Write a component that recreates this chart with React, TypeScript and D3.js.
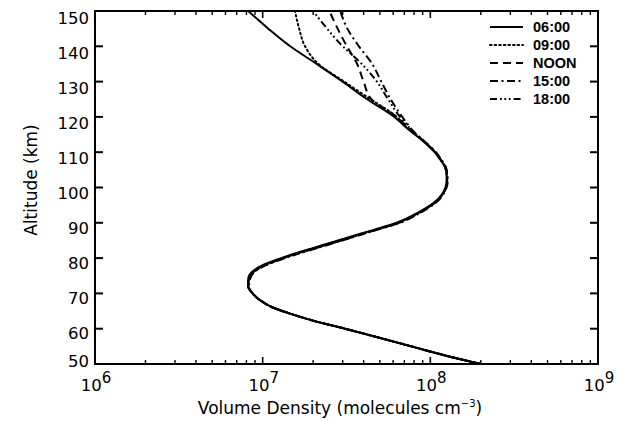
import React from "react";
import * as d3 from "d3";

// Altitude grid (km)
const ALTITUDES = [
  50, 52, 55, 57.5, 60, 62, 64, 66, 68, 70, 72, 74, 76, 78, 80, 82, 84, 86, 88, 90,
  92, 94, 96, 98, 100, 102, 104, 106, 108, 110, 112, 114, 116, 118, 120, 125, 130,
  135, 140, 145, 150,
];

// Volume density (molecules cm^-3) for each local time
const DENSITY_0600 = [
  2.0e8, 1.33e8, 7.7e7, 4.9e7, 3.1e7, 2.1e7, 1.52e7, 1.15e7, 9.7e6, 8.7e6, 8.2e6, 8.2e6,
  8.6e6, 1.0e7, 1.29e7, 1.74e7, 2.4e7, 3.3e7, 4.6e7, 6.3e7, 7.8e7, 9.3e7, 1.07e8,
  1.17e8, 1.23e8, 1.25e8, 1.25e8, 1.22e8, 1.14e8, 1.06e8, 9.6e7, 8.6e7, 7.6e7, 6.8e7,
  6.1e7, 4.2e7, 3.0e7, 2.1e7, 1.46e7, 1.08e7, 8.2e6,
];
const DENSITY_0900 = [
  2.0e8, 1.33e8, 7.7e7, 4.9e7, 3.1e7, 2.1e7, 1.52e7, 1.15e7, 9.7e6, 8.7e6, 8.2e6, 8.3e6,
  8.8e6, 1.03e7, 1.33e7, 1.8e7, 2.45e7, 3.4e7, 4.7e7, 6.4e7, 7.9e7, 9.4e7, 1.08e8,
  1.18e8, 1.24e8, 1.26e8, 1.25e8, 1.22e8, 1.15e8, 1.07e8, 9.7e7, 8.7e7, 7.7e7, 6.9e7,
  6.3e7, 4.4e7, 3.06e7, 2.15e7, 1.79e7, 1.65e7, 1.56e7,
];
const DENSITY_NOON = [
  2.0e8, 1.33e8, 7.7e7, 4.9e7, 3.1e7, 2.1e7, 1.52e7, 1.15e7, 9.7e6, 8.7e6, 8.2e6, 8.2e6,
  8.7e6, 1.02e7, 1.31e7, 1.78e7, 2.5e7, 3.45e7, 4.75e7, 6.5e7, 8.0e7, 9.5e7, 1.09e8,
  1.18e8, 1.24e8, 1.26e8, 1.26e8, 1.23e8, 1.15e8, 1.07e8, 9.7e7, 8.7e7, 7.7e7, 7.0e7,
  6.3e7, 4.45e7, 4.0e7, 3.66e7, 3.18e7, 2.8e7, 2.5e7,
];
const DENSITY_1500 = [
  2.0e8, 1.33e8, 7.7e7, 4.9e7, 3.1e7, 2.1e7, 1.52e7, 1.15e7, 9.7e6, 8.7e6, 8.3e6, 8.4e6,
  8.9e6, 1.05e7, 1.36e7, 1.84e7, 2.55e7, 3.5e7, 4.8e7, 6.6e7, 8.1e7, 9.6e7, 1.1e8,
  1.19e8, 1.25e8, 1.27e8, 1.26e8, 1.23e8, 1.16e8, 1.08e8, 9.8e7, 8.8e7, 7.9e7, 7.3e7,
  6.8e7, 5.8e7, 5.1e7, 4.5e7, 3.75e7, 3.2e7, 2.9e7,
];
const DENSITY_1800 = [
  2.0e8, 1.33e8, 7.7e7, 4.9e7, 3.1e7, 2.1e7, 1.52e7, 1.15e7, 9.7e6, 8.7e6, 8.2e6, 8.3e6,
  8.8e6, 1.04e7, 1.34e7, 1.82e7, 2.5e7, 3.4e7, 4.7e7, 6.4e7, 7.9e7, 9.4e7, 1.08e8,
  1.18e8, 1.24e8, 1.26e8, 1.25e8, 1.22e8, 1.15e8, 1.07e8, 9.7e7, 8.7e7, 7.8e7, 7.2e7,
  6.6e7, 5.6e7, 4.8e7, 3.9e7, 3.0e7, 2.42e7, 2.0e7,
];

const SERIES_NAMES = ["06:00", "09:00", "NOON", "15:00", "18:00"];
const SERIES_VALUES = [DENSITY_0600, DENSITY_0900, DENSITY_NOON, DENSITY_1500, DENSITY_1800];
const SERIES_DASHES = ["none", "1.6 3", "8 5", "8 3.5 2 3.5", "7 3 1.8 2.6 1.8 2.6 1.8 3"];

const Y_TICKS = [50, 60, 70, 80, 90, 100, 110, 120, 130, 140, 150];
const X_DECADES = [6, 7, 8, 9];
const X_MINOR_MULT = [2, 3, 4, 5, 6, 7, 8, 9];

const FONT = "'DejaVu Sans', sans-serif";

export default function App() {
  const W = 627;
  const H = 421;
  const L = 95, R = 598, T = 11, B = 364;

  const x = d3.scaleLog().domain([1e6, 1e9]).range([L, R]);
  const y = d3.scaleLinear().domain([50, 150]).range([B, T]);
  // label centres sit slightly off the ticks in the original
  const yLabel = d3.scaleLinear().domain([50, 60, 150]).range([361, 332.5, 17.5]);

  const lineGen = (vals: number[]) =>
    d3
      .line<number>()
      .x((v) => x(v))
      .y((_, i) => y(ALTITUDES[i]))
      .curve(d3.curveMonotoneY)(vals) as string;

  const minorX: number[] = [];
  X_DECADES.slice(0, -1).forEach((d) => X_MINOR_MULT.forEach((m) => minorX.push(m * Math.pow(10, d))));

  const legendX0 = 490, legendX1 = 523, legendY0 = 27, legendDy = 18;

  return (
    <svg
      width={W}
      height={H}
      viewBox={`0 0 ${W} ${H}`}
      style={{ position: "absolute", left: 0, top: 0, background: "#fff" }}
    >
      <rect x={0} y={0} width={W} height={H} fill="#fff" />
      <defs>
        <clipPath id="plotclip">
          <rect x={L} y={T} width={R - L} height={B - T} />
        </clipPath>
      </defs>

      {/* curves */}
      <g clipPath="url(#plotclip)">
        {SERIES_VALUES.map((vals, i) => (
          <path
            key={SERIES_NAMES[i]}
            d={lineGen(vals)}
            fill="none"
            stroke="#000"
            strokeWidth={2}
            strokeDasharray={SERIES_DASHES[i] === "none" ? undefined : SERIES_DASHES[i]}
            strokeLinecap={i === 1 ? "round" : "butt"}
          />
        ))}
      </g>

      {/* frame */}
      <rect x={L} y={T} width={R - L} height={B - T} fill="none" stroke="#000" strokeWidth={2} />

      {/* y ticks (left and right, inward) */}
      {Y_TICKS.map((t) => (
        <g key={"yt" + t}>
          <line x1={L} x2={L + 8} y1={y(t)} y2={y(t)} stroke="#000" strokeWidth={2} />
          <line x1={R} x2={R - 8} y1={y(t)} y2={y(t)} stroke="#000" strokeWidth={2} />
          <text
            x={89}
            y={yLabel(t) + 6}
            textAnchor="end"
            fontFamily={FONT}
            fontSize={16.5}
            fill="#000"
          >
            {t}
          </text>
        </g>
      ))}

      {/* x ticks major */}
      {X_DECADES.map((d) => {
        const xv = x(Math.pow(10, d));
        return (
          <g key={"xd" + d}>
            <line x1={xv} x2={xv} y1={B} y2={B - 7} stroke="#000" strokeWidth={1.6} />
            <line x1={xv} x2={xv} y1={T} y2={T + 7} stroke="#000" strokeWidth={1.6} />
            <text x={xv + 1} y={391} textAnchor="middle" fontFamily={FONT} fontSize={16.5} fill="#000">
              <tspan>10</tspan>
              <tspan dy={-8} fontSize={15}>
                {d}
              </tspan>
            </text>
          </g>
        );
      })}
      {/* x ticks minor */}
      {minorX.map((v, i) => (
        <g key={"xm" + i}>
          <line x1={x(v)} x2={x(v)} y1={B} y2={B - 4} stroke="#000" strokeWidth={1.4} />
          <line x1={x(v)} x2={x(v)} y1={T} y2={T + 4} stroke="#000" strokeWidth={1.4} />
        </g>
      ))}

      {/* axis titles */}
      <text x={340} y={414} textAnchor="middle" fontFamily={FONT} fontSize={17} fill="#000">
        <tspan>Volume Density (molecules cm</tspan>
        <tspan dy={-7} fontSize={10}>
          −3
        </tspan>
        <tspan dy={7}>)</tspan>
      </text>
      <text
        transform="translate(37,180) rotate(-90)"
        textAnchor="middle"
        fontFamily={FONT}
        fontSize={17}
        fill="#000"
      >
        Altitude (km)
      </text>

      {/* legend */}
      {SERIES_NAMES.map((name, i) => {
        const ly = legendY0 + i * legendDy;
        return (
          <g key={"lg" + name}>
            <line
              x1={legendX0}
              x2={legendX1}
              y1={ly}
              y2={ly}
              stroke="#000"
              strokeWidth={2}
              strokeDasharray={SERIES_DASHES[i] === "none" ? undefined : SERIES_DASHES[i]}
              strokeLinecap={i === 1 ? "round" : "butt"}
            />
            <text
              x={533}
              y={ly + 5}
              fontFamily="'Liberation Sans', Arial, sans-serif"
              fontWeight="bold"
              fontSize={14.5}
              fill="#000"
            >
              {name}
            </text>
          </g>
        );
      })}
    </svg>
  );
}
